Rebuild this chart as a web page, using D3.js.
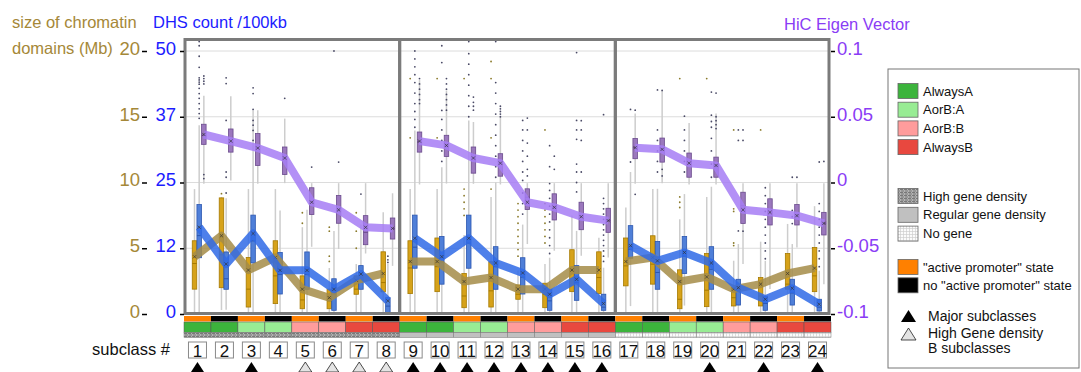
<!DOCTYPE html>
<html>
<head>
<meta charset="utf-8">
<script src="https://cdn.jsdelivr.net/npm/d3@7"></script>
<style>
  body { margin: 0; background: #fff; }
  svg text { font-family: "Liberation Sans", Arial, sans-serif; }
</style>
</head>
<body>
<svg id="chart" width="1081" height="372"></svg>
<script>
// ---- data ----
const subclasses = d3.range(1, 25);
const promoter = subclasses.map(d => d % 2 === 1 ? "active" : "none");
const abClass = ["AlwaysA", "AlwaysA", "AorB:A", "AorB:A", "AorB:B", "AorB:B", "AlwaysB", "AlwaysB",
                 "AlwaysA", "AlwaysA", "AorB:A", "AorB:A", "AorB:B", "AorB:B", "AlwaysB", "AlwaysB",
                 "AlwaysA", "AlwaysA", "AorB:A", "AorB:A", "AorB:B", "AorB:B", "AlwaysB", "AlwaysB"];
const geneDensity = ["high", "high", "high", "high", "high", "high", "high", "high",
                     "regular", "regular", "regular", "regular", "regular", "regular", "regular", "regular",
                     "none", "none", "none", "none", "none", "none", "none", "none"];
const markers = ["major", "", "major", "", "hgB", "hgB", "hgB", "hgB",
                 "major", "major", "major", "major", "major", "major", "major", "major",
                 "", "", "", "major", "", "major", "", "major"];

// box stats: [low whisker, q1, median, q3, high whisker]
const sizeBox = [
  [0, 1.89, 3.84, 5.57, 9.5], [0.3, 2.0, 4.5, 8.83, 8.9], [0.1, 0.53, 1.89, 4.3, 9.5], [0, 0.79, 2.9, 5.57, 9.5],
  [0, 0.4, 1.07, 2.9, 6.6], [0, 0.4, 1.0, 1.89, 3.5], [0, 1.5, 1.89, 2.9, 3.8], [0, 1.68, 2.39, 4.73, 7.73],
  [0, 1.55, 3.5, 5.57, 9.5], [0, 1.7, 3.6, 5.78, 9.5], [0, 0.48, 1.37, 3.08, 6.0], [0, 0.53, 1.76, 3.97, 8.9],
  [0, 1.12, 1.5, 2.21, 3.3], [0, 0.48, 1.5, 2.34, 3.8], [0, 1.7, 3.3, 4.89, 7.5], [0, 1.55, 2.77, 4.73, 5.8],
  [0, 2.14, 3.66, 5.78, 8.1], [0, 2.27, 3.79, 5.95, 9.5], [0, 0.4, 1.12, 3.36, 7.2], [0, 0.56, 1.81, 4.6, 8.9],
  [0, 0.61, 1.24, 2.0, 4.05], [0, 0.61, 1.37, 2.77, 5.5], [0, 1.89, 2.27, 4.6, 6.85], [0, 1.7, 2.9, 5.06, 8.2]];
const sizeMean = [4.35, 5.95, 3.34, 4.3, 1.89, 1.24, 2.57, 3.08,
                  3.99, 3.99, 2.47, 2.77, 1.89, 1.89, 3.34, 3.34,
                  3.99, 4.3, 2.47, 2.82, 1.89, 2.27, 3.08, 3.49];
const sizeOutliers = [[], [9.15], [], [], [7.7, 6.9], [6.6, 6.3, 4.4, 4.0], [7.7, 6.3, 5.0], [],
  [17.9, 13.4], [17.9, 13.4], [17.9, 9.5, 9.0, 8.5, 8.0, 7.5], [19.2, 17.9, 13.4, 9.5],
  [8.4, 7.9, 7.4, 6.9, 6.4, 5.9, 5.4, 4.9, 4.4], [14, 8.4, 7.9, 7.4, 6.9, 6.4, 5.9, 5.4], [], [],
  [], [], [17.9, 8.9, 8.5, 8.1], [17.9], [14, 8.0, 7.8, 5.4, 5.2], [14], [], []];

const dhsBox = [
  [0, 10.7, 14.9, 20.8, 35.9], [0.8, 4.7, 6.7, 11.8, 22], [0, 9.7, 13.9, 18.8, 38.7], [0, 3.8, 7.5, 11.7, 19.7],
  [0.2, 4.7, 7.5, 11.8, 19.8], [0, 0.7, 3.8, 6.7, 15.8], [0, 4.7, 6.5, 9.2, 17], [0, 0.25, 1.5, 3.1, 9.5],
  [0, 8.7, 12.7, 18.8, 34.9], [0, 5.67, 9.9, 14.75, 27.9], [0, 8.7, 13.5, 18.8, 36.8], [0, 4.7, 9, 12.8, 25],
  [0, 3.8, 7, 10.7, 17], [0, 0.7, 2.5, 4.7, 10.7], [0, 2.6, 6, 9.2, 15.8], [0, 0.7, 1.3, 3.76, 8.8],
  [1.5, 10.6, 12.3, 16.8, 27], [0, 4.7, 7.9, 13.8, 23.8], [1.6, 7.7, 11, 14.75, 22.8], [0, 4.7, 8.5, 12.8, 24.2],
  [0, 1.7, 4.5, 6.6, 13.3], [0, 0.7, 2, 3.4, 10.1], [0, 1.7, 4, 6.6, 13.3], [0, 0.57, 1.3, 2.8, 8.2]];
const dhsMean = [16.5, 9.5, 15.3, 8.3, 8.3, 4.7, 7.6, 2.5,
                 14.4, 10.9, 14.4, 9.7, 7.8, 3.76, 6.6, 1.97,
                 13, 10.1, 11.7, 9.7, 5.0, 2.8, 4.9, 1.85];
const dhsOutliers = [
  [51.8, 51, 49, 46.9, 44.9, 44.5, 44.1, 43.7, 42.9, 41.9, 41, 40, 39, 38.1, 37.2],
  [44.9, 43.8, 36.8, 27, 26, 23], [43, 41.9, 38.9, 36.8, 35.9, 34.9, 33], [], [], [50], [22.8], [11, 10.3, 9.8],
  [50, 48.5, 47, 45.5, 44, 42, 40, 38.5, 37, 35.5], [51, 47.8, 38.7, 37, 35, 33, 31, 29],
  [51.8, 49.5, 47.5, 45.5, 43.5, 41.5, 39.5, 37.5], [51.8, 44, 42, 40, 38, 36, 34, 32, 30, 28, 26],
  [36.8, 35, 33, 31, 29, 27, 25.4, 23, 21, 19], [32, 28, 24.8, 23.5, 22, 20.5, 19, 17.5, 16, 14.5, 13, 11.5],
  [49.7, 36.8, 35, 33.2, 28.5, 27, 25, 23.2], [37.9, 22, 21, 20, 19, 18, 17, 16, 15, 14, 13, 12, 11, 10],
  [38.9, 28.9], [42.6, 35, 33, 31, 29, 27], [37.6, 35, 33, 31, 29, 27], [42.2, 37.8, 36.6, 35.5, 33.4, 31, 28.5, 26],
  [35, 33, 15.8], [24, 22.5, 21, 19.5, 18, 16.5, 15, 13.5, 12, 10.5], [26, 19.7, 18.5, 17.2],
  [28.9, 21, 19.5, 18, 16.5, 15, 13.5, 12, 10.5, 9]];

const eigenBox = [
  [-0.001, 0.029, 0.036, 0.0443, 0.066], [0.0015, 0.0231, 0.031, 0.0407, 0.0656],
  [-0.001, 0.013, 0.026, 0.0372, 0.055], [-0.0005, 0.0061, 0.018, 0.027, 0.0486],
  [-0.0489, -0.0244, -0.015, -0.004, -0.0005], [-0.0506, -0.031, -0.021, -0.0099, -0.0005],
  [-0.054, -0.0473, -0.0379, -0.0252, -0.0005], [-0.0634, -0.043, -0.035, -0.027, -0.0082],
  [-0.0015, 0.0231, 0.031, 0.0384, 0.0779], [-0.0008, 0.0198, 0.028, 0.0359, 0.07],
  [-0.001, 0.0071, 0.0186, 0.027, 0.046], [-0.0015, 0.0048, 0.0147, 0.0219, 0.0498],
  [-0.0468, -0.0206, -0.0112, -0.0048, -0.0005], [-0.0519, -0.0285, -0.019, -0.0086, -0.0005],
  [-0.0557, -0.0359, -0.026, -0.015, -0.0005], [-0.057, -0.0379, -0.029, -0.0196, -0.0005],
  [-0.001, 0.0181, 0.0265, 0.0334, 0.0524], [-0.0005, 0.0155, 0.025, 0.0338, 0.0702],
  [-0.0015, 0.004, 0.0147, 0.0224, 0.0453], [-0.0015, 0.004, 0.013, 0.0193, 0.0524],
  [-0.062, -0.0311, -0.0176, -0.0074, -0.0005], [-0.081, -0.0323, -0.0227, -0.0124, -0.0005],
  [-0.0494, -0.0323, -0.0252, -0.0168, -0.0005], [-0.0773, -0.0399, -0.031, -0.0227, -0.0005]];
const eigenMean = [0.0365, 0.0315, 0.0262, 0.0186, -0.015, -0.0208, -0.0341, -0.0349,
                   0.0315, 0.0282, 0.0186, 0.0147, -0.015, -0.0189, -0.026, -0.029,
                   0.0265, 0.0252, 0.0147, 0.013, -0.0208, -0.0227, -0.0252, -0.0311];
const eigenOutliers = [[0.081, 0.079, 0.077, 0.075, 0.006, 0.003], [], [], [0.064, 0.007], [0.0117], [0.0155], [], [],
  [0.079, 0.075, 0.071, 0.067, 0.063, 0.06], [0.079, 0.075, 0.071, 0.067, 0.063, 0.059, 0.055],
  [0.065, 0.061, 0.058, 0.055], [0.058, 0.056, 0.054, 0.052, 0.05],
  [0.049, 0.04, 0.03, 0.02, 0.01, 0.005], [0.02, 0.01], [0.047, 0.04, 0.032, 0.008], [],
  [0.055, -0.009], [0.07, 0.01, 0.005], [], [0.068, 0.05, 0.047, 0.044, 0.041], [0.04, 0.032, -0.037], [], [0.004], [0.016]];

const sizeTicks = [0, 5, 10, 15, 20];
const dhsTicks = [0, 12.5, 25, 37.5, 50];
const eigenTicks = [-0.1, -0.05, 0, 0.05, 0.1];

const abLabels = ["AlwaysA", "AorB:A", "AorB:B", "AlwaysB"];
const geneLabels = ["High gene density", "Regular gene density", "No gene"];
const promoterLabels = ['"active promoter" state', 'no "active promoter" state'];
const markerLabels = [["Major subclasses"], ["High Gene density", "B subclasses"]];

// ---- drawing ----
const svg = d3.select("#chart");
const brownTxt = "#a58838", blueTxt = "#1c1cff", purpleTxt = "#8a3cf5";

const x = d3.scaleBand().domain(subclasses).range([184, 831]);
const sub = d3.scaleBand().domain(["size", "dhs", "eigen"]).range([-5.3, 8.7]);
const ySize = d3.scaleLinear().domain([0, 20]).range([314, 51]);
const yDhs = d3.scaleLinear().domain([0, 50]).range([314, 51]);
const yEig = d3.scaleLinear().domain([-0.1, 0.1]).range([314, 51]);

const abColor = d3.scaleOrdinal().domain(abLabels).range(["#3cb43c", "#98ec94", "#ff9c9c", "#e8483f"]);
const promColor = d3.scaleOrdinal().domain(["active", "none"]).range(["#ff8000", "#000000"]);
const geneFill = d3.scaleOrdinal().domain(["high", "regular", "none"]).range(["url(#pHigh)", "#c0c0c0", "url(#pNone)"]);

// patterns
const defs = svg.append("defs");
const pHigh = defs.append("pattern").attr("id", "pHigh").attr("patternUnits", "userSpaceOnUse")
  .attr("width", 4).attr("height", 3);
pHigh.append("rect").attr("width", 4).attr("height", 3).attr("fill", "#b4b4b4");
pHigh.append("path").attr("d", "M0,0.5H3M1,2H4").attr("stroke", "#6a6a6a").attr("stroke-width", 0.8);
const pNone = defs.append("pattern").attr("id", "pNone").attr("patternUnits", "userSpaceOnUse")
  .attr("width", 3).attr("height", 3);
pNone.append("rect").attr("width", 3).attr("height", 3).attr("fill", "#fbfbfb");
pNone.append("path").attr("d", "M0,0.5H3M0.5,0V3").attr("stroke", "#cfcfcf").attr("stroke-width", 0.7);

// gridlines
svg.append("g").selectAll("line").data(dhsTicks).join("line")
  .attr("x1", 185).attr("x2", 829)
  .attr("y1", d => yDhs(d)).attr("y2", d => yDhs(d))
  .attr("stroke", "#dcdcdc").attr("stroke-width", 1);

const series = [
  { key: "size", y: ySize, box: sizeBox, mean: sizeMean, out: sizeOutliers,
    fill: "#d6a21a", stroke: "#a67a00", line: "#a48c48", lineOp: 0.85, dot: "#8a7a2a" },
  { key: "dhs", y: yDhs, box: dhsBox, mean: dhsMean, out: dhsOutliers,
    fill: "#4f7fd8", stroke: "#2b56b0", line: "#2f6ae6", lineOp: 0.85, dot: "#4a4a66" },
  { key: "eigen", y: yEig, box: eigenBox, mean: eigenMean, out: eigenOutliers,
    fill: "#9b78bd", stroke: "#6a4a8c", line: "#a67cf5", lineOp: 0.85, dot: "#4a4a66" }
];
const cx = (i, key) => x(subclasses[i]) + x.bandwidth() / 2 + sub(key) + sub.bandwidth() / 2;
const bw = 4.5;

// whiskers
series.forEach(s => {
  svg.append("g").selectAll("line").data(s.box).join("line")
    .attr("x1", (d, i) => cx(i, s.key)).attr("x2", (d, i) => cx(i, s.key))
    .attr("y1", d => s.y(d[0])).attr("y2", d => s.y(d[4]))
    .attr("stroke", "#cdcdcd").attr("stroke-width", 1.5);
});

// outliers
series.forEach(s => {
  const pts = [];
  s.out.forEach((arr, i) => arr.forEach(v => pts.push({ i, v })));
  svg.append("g").selectAll("circle").data(pts).join("circle")
    .attr("cx", d => cx(d.i, s.key)).attr("cy", d => s.y(d.v))
    .attr("r", 0.9).attr("fill", s.dot);
});

// boxes
series.forEach(s => {
  const g = svg.append("g");
  g.selectAll("rect").data(s.box).join("rect")
    .attr("x", (d, i) => cx(i, s.key) - bw / 2).attr("width", bw)
    .attr("y", d => s.y(d[3])).attr("height", d => s.y(d[1]) - s.y(d[3]))
    .attr("fill", s.fill).attr("stroke", s.stroke).attr("stroke-width", 0.8);
  g.selectAll("line").data(s.box).join("line")
    .attr("x1", (d, i) => cx(i, s.key) - bw / 2).attr("x2", (d, i) => cx(i, s.key) + bw / 2)
    .attr("y1", d => s.y(d[2])).attr("y2", d => s.y(d[2]))
    .attr("stroke", s.stroke).attr("stroke-width", 1);
});

// mean lines, one per panel
series.forEach(s => {
  const line = d3.line().x(i => cx(i, s.key)).y(i => s.y(s.mean[i]));
  [0, 1, 2].forEach(p => {
    svg.append("path").datum(d3.range(p * 8, p * 8 + 8))
      .attr("d", line).attr("fill", "none")
      .attr("stroke", s.line).attr("stroke-opacity", s.lineOp)
      .attr("stroke-width", 8).attr("stroke-linejoin", "round");
  });
  // mean markers (x)
  svg.append("g").selectAll("path").data(s.mean).join("path")
    .attr("d", (d, i) => {
      const px = cx(i, s.key), py = s.y(d), r = 1.6;
      return `M${px - r},${py - r}L${px + r},${py + r}M${px - r},${py + r}L${px + r},${py - r}`;
    })
    .attr("stroke", "#333").attr("stroke-width", 0.7);
});

// frames
svg.append("g").selectAll("rect").data([0, 1, 2]).join("rect")
  .attr("x", p => x(subclasses[p * 8]) + (p === 0 ? 1 : 0))
  .attr("width", p => x.bandwidth() * 8 - (p === 0 ? 1 : 0) - (p === 2 ? 2 : 0))
  .attr("y", 39.5).attr("height", 274)
  .attr("fill", "none").attr("stroke", "#7b7b7b").attr("stroke-width", 3);

// strips
const strip = svg.append("g");
strip.selectAll(".prom").data(subclasses).join("rect").attr("class", "prom")
  .attr("x", d => x(d)).attr("width", x.bandwidth()).attr("y", 316).attr("height", 5.5)
  .attr("fill", (d, i) => promColor(promoter[i]));
strip.selectAll(".ab").data(subclasses).join("rect").attr("class", "ab")
  .attr("x", d => x(d)).attr("width", x.bandwidth()).attr("y", 322).attr("height", 10.5)
  .attr("fill", (d, i) => abColor(abClass[i])).attr("stroke", "#555").attr("stroke-width", 0.5);
strip.selectAll(".gene").data(subclasses).join("rect").attr("class", "gene")
  .attr("x", d => x(d)).attr("width", x.bandwidth()).attr("y", 332.5).attr("height", 5)
  .attr("fill", (d, i) => geneFill(geneDensity[i])).attr("stroke", "#777").attr("stroke-width", 0.5);

// subclass labels
const lab = svg.append("g").selectAll("g").data(subclasses).join("g")
  .attr("transform", d => `translate(${x(d) + x.bandwidth() / 2},0)`);
lab.append("rect").attr("x", -9).attr("width", 18).attr("y", 342).attr("height", 16)
  .attr("fill", "#fff").attr("stroke", "#8a8a8a").attr("stroke-width", 1);
lab.append("text").attr("y", 356.5).attr("text-anchor", "middle").attr("font-size", 17)
  .attr("fill", "#111").text(d => d);

const tri = (cxp, top, w, h) => `M${cxp},${top}L${cxp + w / 2},${top + h}L${cxp - w / 2},${top + h}Z`;
svg.append("g").selectAll("path").data(subclasses.filter((d, i) => markers[i])).join("path")
  .attr("d", d => tri(x(d) + x.bandwidth() / 2, 362, 13, 10))
  .attr("fill", d => markers[d - 1] === "major" ? "#000" : "#e4e4e4")
  .attr("stroke", d => markers[d - 1] === "major" ? "none" : "#222").attr("stroke-width", 0.8);

svg.append("text").attr("x", 170).attr("y", 355).attr("text-anchor", "end")
  .attr("font-size", 16.5).attr("fill", "#111").text("subclass #");

// axes
const styleAxis = (g, color, dy) => {
  g.select(".domain").remove();
  g.selectAll(".tick line").attr("stroke", "#000").attr("stroke-width", 1.5);
  g.selectAll("text").attr("fill", color).attr("font-size", 18.5)
    .attr("font-family", '"Liberation Sans", Arial, sans-serif').attr("dy", dy);
};
svg.append("g").attr("transform", "translate(147,0)")
  .call(d3.axisLeft(ySize).tickValues(sizeTicks).tickSize(5).tickPadding(2).tickFormat(d3.format("d")))
  .call(g => styleAxis(g, brownTxt, "0.18em"));
svg.append("g").attr("transform", "translate(184,0)")
  .call(d3.axisLeft(yDhs).tickValues(dhsTicks).tickSize(4).tickPadding(4).tickFormat(d => Math.floor(d)))
  .call(g => styleAxis(g, blueTxt, "0.18em"));
svg.append("g").attr("transform", "translate(831,0)")
  .call(d3.axisRight(yEig).tickValues(eigenTicks).tickSize(4).tickPadding(2).tickFormat(d => String(d)))
  .call(g => styleAxis(g, purpleTxt, "0.18em"));

// axis titles
const titles = [
  { t: "size of chromatin", x: 12, y: 28, c: brownTxt },
  { t: "domains (Mb)", x: 12, y: 54, c: brownTxt },
  { t: "DHS count /100kb", x: 153, y: 28, c: blueTxt },
  { t: "HiC Eigen Vector", x: 784, y: 30, c: purpleTxt }
];
svg.append("g").selectAll("text").data(titles).join("text")
  .attr("x", d => d.x).attr("y", d => d.y).attr("fill", d => d.c)
  .attr("font-size", 16.5).text(d => d.t);

// legend
const leg = svg.append("g");
leg.append("rect").attr("x", 888).attr("y", 69).attr("width", 191).attr("height", 299)
  .attr("fill", "#fff").attr("stroke", "#777").attr("stroke-width", 1);
const legRows = [
  ...abLabels.map((l, i) => ({ label: l, fill: abColor(l), y: 83.5 + i * 18.7 })),
  ...geneLabels.map((l, i) => ({ label: l, fill: geneFill(["high", "regular", "none"][i]), y: 188.5 + i * 18.8 })),
  ...promoterLabels.map((l, i) => ({ label: l, fill: promColor(["active", "none"][i]), y: 259.5 + i * 18.3 }))
];
leg.selectAll(".sw").data(legRows).join("rect").attr("class", "sw")
  .attr("x", 898).attr("y", d => d.y).attr("width", 20).attr("height", 15)
  .attr("fill", d => d.fill).attr("stroke", "#666").attr("stroke-width", 0.8);
leg.selectAll(".lt").data(legRows).join("text").attr("class", "lt")
  .attr("x", 923).attr("y", d => d.y + 12).attr("font-size", 13).attr("fill", "#111").text(d => d.label);
leg.selectAll(".mk").data(markerLabels).join("path").attr("class", "mk")
  .attr("d", (d, i) => tri(908.5, 310 + i * 18, 15, 12))
  .attr("fill", (d, i) => i === 0 ? "#000" : "#e4e4e4")
  .attr("stroke", (d, i) => i === 0 ? "none" : "#222").attr("stroke-width", 0.8);
leg.selectAll(".mt").data(markerLabels).join("text").attr("class", "mt")
  .attr("x", 928).attr("y", (d, i) => 321 + i * 16.5).attr("font-size", 14).attr("fill", "#111")
  .selectAll("tspan").data(d => d).join("tspan")
  .attr("x", 928).attr("dy", (d, j) => j === 0 ? 0 : 15).text(d => d);
</script>
</body>
</html>
